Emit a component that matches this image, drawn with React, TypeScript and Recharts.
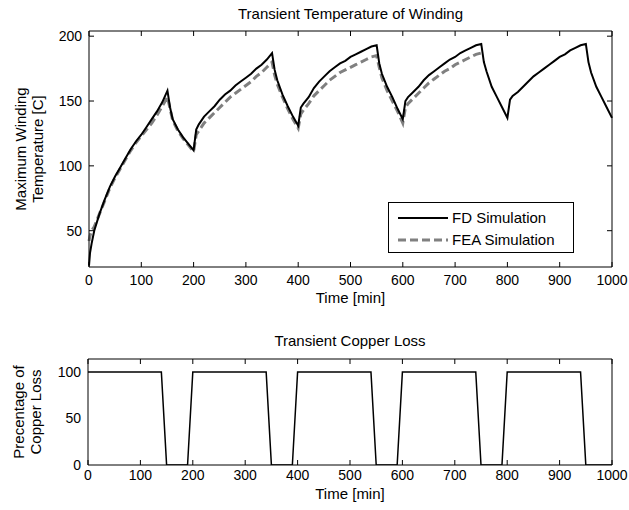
import React from "react";
import { LineChart, Line, XAxis, YAxis, Legend, Label } from "recharts";

// winding temperature, time in minutes
const tempTime = [
  0, 2, 5, 10, 20, 30, 40, 50, 60, 70, 80, 90, 100, 110, 120, 130, 140, 150,
  155, 160, 170, 180, 190, 200,
  205, 210, 220, 230, 240, 250, 260, 270, 280, 290, 300, 310, 320, 330, 340, 350,
  355, 360, 370, 380, 390, 400,
  405, 410, 420, 430, 440, 450, 460, 470, 480, 490, 500, 510, 520, 530, 540, 550,
  555, 560, 570, 580, 590, 600,
  605, 610, 620, 630, 640, 650, 660, 670, 680, 690, 700, 710, 720, 730, 740, 750,
  755, 760, 770, 780, 790, 800,
  805, 810, 820, 830, 840, 850, 860, 870, 880, 890, 900, 910, 920, 930, 940, 950,
  955, 960, 970, 980, 990, 1000,
];

const fdTemp = [
  23, 33, 40, 50, 63, 74, 84, 92, 99, 106, 113, 119, 124, 130, 136, 142, 149, 158,
  145, 136, 128, 122, 117, 112,
  128, 132, 138, 142, 146, 151, 155, 158, 162, 165, 168, 171, 175, 178, 182, 187,
  174, 166, 155, 146, 138, 131,
  145, 148, 153, 160, 165, 169, 173, 176, 179, 181, 184, 186, 188, 190, 192, 193,
  179, 171, 161, 153, 144, 136,
  150, 153, 157, 161, 166, 170, 173, 176, 179, 182, 184, 187, 189, 191, 193, 194,
  180, 173, 161, 153, 145, 137,
  151, 154, 157, 161, 165, 169, 172, 175, 178, 181, 184, 186, 189, 191, 193, 194,
  180, 172, 161, 153, 145, 137,
];

// FEA run stops at 750 min
const feaTemp = [
  42, 46, 50, 53, 63, 73, 83, 91, 98, 105, 112, 118, 123, 128, 133, 139, 146, 153,
  144, 135, 127, 121, 116, 111,
  124, 127, 133, 137, 141, 145, 149, 153, 156, 159, 162, 165, 169, 172, 176, 180,
  170, 163, 153, 144, 136, 129,
  140, 143, 148, 154, 158, 162, 166, 169, 172, 174, 176, 178, 180, 182, 184, 185,
  176, 168, 158, 150, 142, 133,
  145, 148, 152, 156, 160, 164, 167, 170, 173, 175, 178, 180, 182, 184, 186, 187,
];

const lossTime = [0, 140, 150, 190, 200, 340, 350, 390, 400, 540, 550, 590, 600, 740, 750, 790, 800, 940, 950, 1000];
const lossPct = [100, 100, 0, 0, 100, 100, 0, 0, 100, 100, 0, 0, 100, 100, 0, 0, 100, 100, 0, 0];

const timeTicks = [0, 100, 200, 300, 400, 500, 600, 700, 800, 900, 1000];
const tempTicks = [50, 100, 150, 200];
const lossTicks = [0, 50, 100];

const tempData = tempTime.map((t, i) => ({
  t,
  fd: fdTemp[i],
  fea: i < feaTemp.length ? feaTemp[i] : null,
}));
const lossData = lossTime.map((t, i) => ({ t, pct: lossPct[i] }));

const FONT = '"Liberation Sans", Arial, sans-serif';
const tickStyle = { fontSize: 14, fill: "#000", fontFamily: FONT };
const noLabel = () => "";

const rotatedLabel = (lines: string[], bx: number) => (props: any) => {
  const vb = props.viewBox || { y: 0, height: 0 };
  const cy = vb.y + vb.height / 2;
  return (
    <text
      x={bx}
      y={cy}
      transform={`rotate(-90 ${bx} ${cy})`}
      textAnchor="middle"
      fontSize={15}
      fontFamily={FONT}
      fill="#000"
    >
      {lines.map((l, i) => (
        <tspan key={i} x={bx} dy={i === 0 ? 0 : 17}>
          {l}
        </tspan>
      ))}
    </text>
  );
};

const centerText = (text: string, baseline: number) => (props: any) => {
  const vb = props.viewBox || { x: 0, width: 0 };
  return (
    <text x={vb.x + vb.width / 2} y={baseline} textAnchor="middle" fontSize={15} fontFamily={FONT} fill="#000">
      {text}
    </text>
  );
};

const legendBox = () => (
  <div
    style={{
      border: "1px solid #000",
      background: "#fff",
      width: 186,
      height: 51,
      boxSizing: "border-box",
      fontFamily: FONT,
      fontSize: 15,
      padding: "4px 0 0 9px",
    }}
  >
    <div style={{ display: "flex", alignItems: "center", height: 21 }}>
      <svg width={50} height={6}>
        <line x1={0} y1={3} x2={50} y2={3} stroke="#000" strokeWidth={2} />
      </svg>
      <span style={{ marginLeft: 4 }}>FD Simulation</span>
    </div>
    <div style={{ display: "flex", alignItems: "center", height: 23 }}>
      <svg width={50} height={6}>
        <line x1={0} y1={3} x2={50} y2={3} stroke="#808080" strokeWidth={3} strokeDasharray="8 4" />
      </svg>
      <span style={{ marginLeft: 4 }}>FEA Simulation</span>
    </div>
  </div>
);

export default function App() {
  return (
    <div style={{ position: "absolute", left: 0, top: 0, width: 629, height: 510, background: "#fff" }}>
      <div style={{ position: "absolute", left: 0, top: 0 }}>
        <LineChart width={629} height={310} data={tempData} margin={{ top: 31, right: 17, bottom: 3, left: 49 }}>
          <XAxis
            xAxisId="frameB"
            dataKey="t"
            type="number"
            domain={[0, 1000]}
            ticks={timeTicks}
            orientation="bottom"
            mirror
            height={1}
            tickFormatter={noLabel}
            tickSize={5}
            stroke="#000"
          />
          <XAxis
            xAxisId="main"
            dataKey="t"
            type="number"
            domain={[0, 1000]}
            ticks={timeTicks}
            orientation="bottom"
            height={40}
            axisLine={false}
            tickLine={false}
            tickSize={0}
            tickMargin={8}
            tick={tickStyle}
          >
            <Label content={centerText("Time [min]", 303)} />
          </XAxis>
          <XAxis
            xAxisId="frameT"
            dataKey="t"
            type="number"
            domain={[0, 1000]}
            ticks={timeTicks}
            orientation="top"
            mirror
            height={1}
            tickFormatter={noLabel}
            tickSize={5}
            stroke="#000"
          >
            <Label content={centerText("Transient Temperature of Winding", 19)} />
          </XAxis>
          <YAxis
            yAxisId="main"
            type="number"
            domain={[22, 204]}
            ticks={tempTicks}
            allowDataOverflow
            width={40}
            axisLine={false}
            tickLine={false}
            tickSize={0}
            tickMargin={7}
            tick={tickStyle}
          >
            <Label content={rotatedLabel(["Maximum Winding", "Temperature [C]"], 26)} />
          </YAxis>
          <YAxis
            yAxisId="frameL"
            type="number"
            domain={[22, 204]}
            ticks={tempTicks}
            allowDataOverflow
            orientation="left"
            mirror
            width={1}
            tickFormatter={noLabel}
            tickSize={5}
            stroke="#000"
          />
          <YAxis
            yAxisId="frameR"
            type="number"
            domain={[22, 204]}
            ticks={tempTicks}
            allowDataOverflow
            orientation="right"
            mirror
            width={1}
            tickFormatter={noLabel}
            tickSize={5}
            stroke="#000"
          />
          <Line
            xAxisId="main"
            yAxisId="main"
            dataKey="fea"
            stroke="#808080"
            strokeWidth={3}
            strokeDasharray="8 4"
            dot={false}
            type="linear"
            isAnimationActive={false}
          />
          <Line
            xAxisId="main"
            yAxisId="main"
            dataKey="fd"
            stroke="#000"
            strokeWidth={2}
            dot={false}
            type="linear"
            isAnimationActive={false}
          />
          <Legend
            layout="vertical"
            align="center"
            verticalAlign="middle"
            content={legendBox}
            wrapperStyle={{ position: "absolute", left: 388, top: 202, width: 186, height: 51 }}
          />
        </LineChart>
      </div>
      <div style={{ position: "absolute", left: 0, top: 320 }}>
        <LineChart width={629} height={190} data={lossData} margin={{ top: 39, right: 17, bottom: 5, left: 48 }}>
          <XAxis
            xAxisId="frameB"
            dataKey="t"
            type="number"
            domain={[0, 1000]}
            ticks={timeTicks}
            orientation="bottom"
            mirror
            height={1}
            tickFormatter={noLabel}
            tickSize={5}
            stroke="#000"
          />
          <XAxis
            xAxisId="main"
            dataKey="t"
            type="number"
            domain={[0, 1000]}
            ticks={timeTicks}
            orientation="bottom"
            height={40}
            axisLine={false}
            tickLine={false}
            tickSize={0}
            tickMargin={5}
            tick={tickStyle}
          >
            <Label content={centerText("Time [min]", 179)} />
          </XAxis>
          <XAxis
            xAxisId="frameT"
            dataKey="t"
            type="number"
            domain={[0, 1000]}
            ticks={timeTicks}
            orientation="top"
            mirror
            height={1}
            tickFormatter={noLabel}
            tickSize={5}
            stroke="#000"
          >
            <Label content={centerText("Transient Copper Loss", 26)} />
          </XAxis>
          <YAxis
            yAxisId="main"
            type="number"
            domain={[0, 114]}
            ticks={lossTicks}
            allowDataOverflow
            width={40}
            axisLine={false}
            tickLine={false}
            tickSize={0}
            tickMargin={7}
            tick={tickStyle}
          >
            <Label content={rotatedLabel(["Precentage of", "Copper Loss"], 24)} />
          </YAxis>
          <YAxis
            yAxisId="frameL"
            type="number"
            domain={[0, 114]}
            ticks={lossTicks}
            orientation="left"
            mirror
            width={1}
            tickFormatter={noLabel}
            tickSize={5}
            stroke="#000"
          />
          <YAxis
            yAxisId="frameR"
            type="number"
            domain={[0, 114]}
            ticks={lossTicks}
            orientation="right"
            mirror
            width={1}
            tickFormatter={noLabel}
            tickSize={5}
            stroke="#000"
          />
          <Line
            xAxisId="main"
            yAxisId="main"
            dataKey="pct"
            stroke="#000"
            strokeWidth={1.5}
            dot={false}
            type="linear"
            isAnimationActive={false}
          />
        </LineChart>
      </div>
    </div>
  );
}
